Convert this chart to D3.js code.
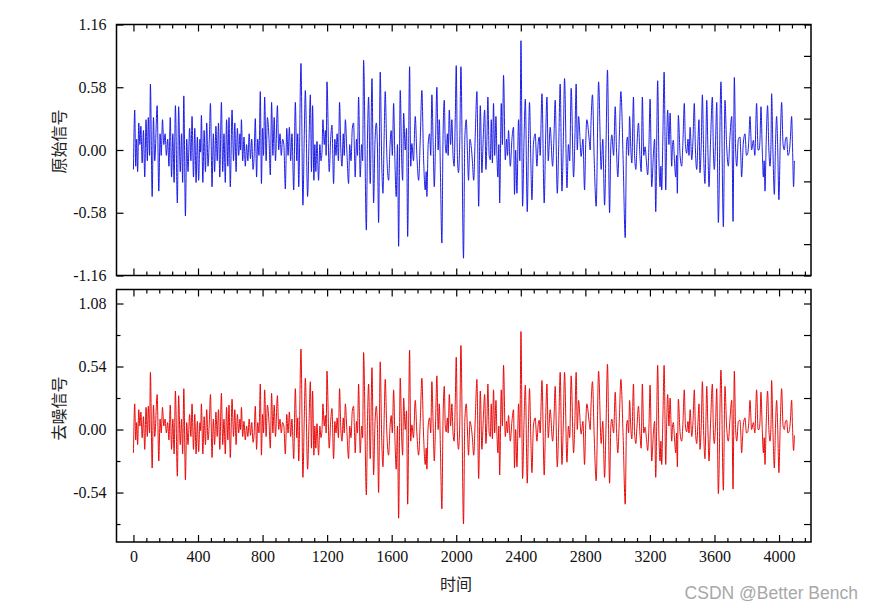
<!DOCTYPE html>
<html>
<head>
<meta charset="utf-8">
<script src="https://cdn.jsdelivr.net/npm/d3@7/dist/d3.min.js"></script>
<style>
  html, body { margin: 0; padding: 0; background: #fff; }
  svg { display: block; }
</style>
</head>
<body>
<svg id="chart" width="874" height="610"></svg>
<script>
// ---- data (time index and signal amplitude at visible turning points) ----
const time = [
0,8,14,20,26,33,40,46,54,62,70,78,86,92,100,105,116,124,132,147,157,165,172,180,188,196,204,212,220,228,236,244,252,260,272,280,290,298,305,312,322,330,338,348,356,363,372,380,388,396,404,412,416,421,430,438,446,454,462,470,477,487,495,503,511,519,527,535,545,553,561,569,577,585,592,600,611,620,628,636,644,652,660,664,669,677,685,693,701,709,717,725,733,741,748,755,763,770,778,786,793,800,806,813,822,830,840,848,856,864,872,880,892,900,908,916,924,932,941,950,958,966,974,982,993,
1003,1012,1018,1024,1038,1050,1058,1065,1079,1088,1096,1103,1110,1118,1124,1130,1137,1147,1155,1162,1168,1174,1182,1189,1194,1199,1213,1222,1230,1240,1248,1255,1262,1270,1277,1285,1292,1300,1306,1313,1322,1333,1340,1348,1356,1364,1369,1374,1382,1388,1395,1405,1414,1420,1426,1443,1450,1457,1467,1478,1488,1496,1505,1512,1519,1529,1538,1546,1553,1560,1570,1581,1590,1597,1604,1612,1620,1628,1636,1643,1653,1662,1668,1674,1684,1692,1699,1711,1718,1725,1735,1746,1756,1767,1777,1787,1797,1808,1814,1818,1826,1835,1842,1849,1857,1864,1872,1880,1888,1895,1902,1911,1918,1926,1932,1938,1945,1950,1957,1965,1973,1980,1987,1994,2000,2007,2014,2022,2029,2045,2053,2062,2070,2076,
2085,2093,2100,2108,2118,2128,2139,2149,2159,2167,2176,2184,2190,2196,2204,2211,2217,2224,2231,2238,2246,2252,2258,2264,2269,2279,2286,2293,2304,2312,2318,2324,2335,2345,2355,2361,2368,2376,2386,2394,2401,2411,2420,2428,2440,2448,2454,2462,2469,2478,2489,2500,2507,2514,2520,2531,2545,2553,2562,2570,2582,2597,2605,2613,2626,2635,2644,2655,2663,2671,2686,2695,2703,2712,2727,2735,2743,2750,2758,2774,2785,2795,2802,2809,2824,2830,2835,2844,2855,2867,2882,2898,2908,2919,2928,2937,2950,2958,2964,2975,2985,2993,3001,3010,3020,3034,3047,3055,3061,3068,3074,3082,3088,3098,3105,3113,3120,3129,3138,3146,3153,
3162,3170,3178,3186,3194,3201,3211,3222,3229,3236,3248,3256,3263,3268,3273,3280,3288,3298,3304,3310,3318,3325,3335,3340,3345,3352,3360,3365,3370,3376,3387,3397,3405,3413,3420,3428,3436,3442,3449,3459,3467,3475,3482,3490,3498,3504,3510,3518,3525,3533,3541,3547,3552,3560,3566,3575,3587,3593,3599,3607,3614,3624,3640,3655,3665,3675,3686,3695,3707,3715,3723,3731,3738,3748,3758,3763,3768,3778,3789,3798,3806,3813,3820,3830,3841,3850,3861,3870,3876,3882,3888,3896,3903,3908,3913,3920,3929,3937,3944,3950,3954,3962,3971,3978,3985,3992,3999,4008,4016,4025,4033,4040,4047,4055,4062,4070,4078,4084,4090,4095
];
const original = [
-0.18,0.37,-0.15,0.10,-0.20,0.25,0.05,0.22,-0.12,0.18,-0.25,0.28,-0.10,0.30,-0.05,0.61,-0.43,0.30,-0.10,0.41,-0.38,0.15,-0.05,0.28,0.05,0.15,-0.05,0.10,-0.15,0.30,-0.25,0.15,-0.30,0.41,-0.49,0.40,-0.20,0.15,-0.30,0.50,-0.61,0.10,-0.20,0.20,-0.10,0.31,-0.25,0.20,-0.30,0.12,-0.28,0.10,-0.02,0.32,-0.30,0.18,-0.20,0.25,-0.15,0.10,0.43,-0.34,0.15,-0.20,0.22,-0.10,0.25,-0.25,0.44,-0.20,0.15,-0.30,0.28,-0.15,0.30,-0.34,0.37,-0.10,0.25,-0.20,0.20,-0.05,0.15,0.00,0.28,-0.10,0.12,-0.15,0.05,-0.10,0.15,-0.08,0.10,-0.18,-0.05,0.29,-0.25,0.10,-0.05,0.54,-0.31,0.20,-0.05,0.49,-0.10,0.30,0.10,-0.23,0.44,-0.05,0.30,-0.10,0.41,0.00,0.15,-0.05,0.10,0.05,-0.36,0.20,-0.05,0.21,-0.10,0.15,-0.37,
0.44,-0.10,0.15,-0.34,0.80,-0.51,0.10,0.55,-0.43,0.10,0.51,-0.20,0.41,-0.28,0.05,-0.20,0.08,-0.28,0.05,-0.10,-0.02,0.28,0.05,0.18,-0.05,0.63,-0.20,0.10,0.23,-0.31,0.10,-0.05,0.15,-0.10,0.44,0.00,-0.15,0.15,-0.05,0.28,0.00,-0.31,0.05,-0.10,0.20,0.25,0.00,-0.25,0.10,-0.05,0.49,-0.25,0.05,-0.10,0.83,-0.74,0.10,0.49,-0.31,0.66,-0.49,0.05,0.25,0.00,-0.67,0.72,-0.10,-0.40,0.10,0.54,-0.05,-0.28,0.05,0.18,-0.05,0.43,-0.10,-0.43,0.05,-0.89,0.55,-0.10,-0.28,0.34,0.00,0.20,-0.80,0.77,-0.15,0.06,-0.10,0.31,-0.05,-0.28,0.10,0.55,-0.05,-0.37,-0.20,-0.43,0.05,0.15,-0.05,0.51,0.05,-0.34,0.10,0.58,0.00,0.28,-0.21,-0.86,0.10,0.46,0.05,-0.03,0.15,-0.05,0.37,0.05,0.28,-0.05,-0.15,0.30,0.78,-0.05,-0.21,0.10,0.77,-1.00,0.10,0.28,-0.05,-0.28,
0.10,0.03,-0.10,-0.28,0.15,0.54,-0.52,0.41,-0.21,0.10,0.37,-0.18,0.10,0.49,-0.05,-0.09,0.28,-0.12,0.43,-0.05,0.31,-0.05,-0.25,0.05,-0.49,0.43,0.05,0.69,-0.09,0.10,-0.05,0.18,-0.15,0.10,0.21,-0.41,0.00,-0.40,0.28,-0.10,1.01,-0.52,0.10,0.47,-0.57,0.10,0.44,-0.10,-0.46,0.05,0.15,-0.15,0.05,0.12,-0.05,0.52,-0.49,0.05,0.49,-0.10,0.21,-0.15,0.10,0.46,-0.40,0.05,0.61,-0.38,0.05,0.66,-0.35,0.05,-0.10,0.57,-0.25,0.10,0.61,0.00,0.31,-0.06,0.10,-0.37,0.05,0.28,0.09,0.00,0.25,0.51,-0.10,-0.52,0.63,-0.18,0.10,-0.51,0.05,0.74,-0.58,0.05,0.14,-0.05,0.40,0.00,-0.25,0.10,0.54,-0.09,-0.81,0.05,0.12,-0.05,0.31,0.00,-0.12,0.49,-0.05,-0.18,0.05,0.25,-0.05,-0.20,0.49,
-0.05,0.03,-0.10,-0.23,0.05,0.47,-0.34,-0.03,0.10,-0.57,0.64,-0.10,-0.34,-0.15,-0.37,0.10,0.72,-0.37,0.10,0.37,0.05,0.34,-0.15,0.05,0.09,-0.10,-0.25,-0.05,-0.40,0.32,-0.05,-0.15,0.10,0.43,0.05,-0.03,0.10,-0.05,0.21,-0.09,0.10,0.43,0.00,-0.18,0.10,0.28,-0.21,0.05,0.51,-0.05,-0.31,0.10,0.46,-0.05,-0.34,0.05,0.49,0.00,-0.18,0.10,0.44,-0.67,0.63,-0.71,0.46,0.05,-0.15,0.10,0.31,-0.66,0.67,0.00,-0.15,0.10,0.12,-0.05,-0.25,0.05,0.15,-0.05,-0.03,0.10,0.31,0.00,0.09,-0.05,0.43,0.00,0.00,0.10,0.40,0.00,-0.25,-0.10,-0.38,0.05,0.41,0.00,-0.15,0.05,0.52,0.00,-0.41,0.05,0.31,0.00,-0.46,0.10,0.44,0.05,0.00,0.10,0.12,-0.05,-0.03,0.10,0.31,0.00,-0.34,-0.10
];
const denoised = [
-0.20,0.22,-0.09,0.06,-0.13,0.17,0.03,0.15,-0.07,0.11,-0.17,0.19,-0.06,0.20,-0.03,0.49,-0.33,0.21,-0.06,0.30,-0.27,0.09,-0.03,0.19,0.03,0.09,-0.03,0.06,-0.09,0.21,-0.17,0.09,-0.21,0.33,-0.40,0.29,-0.13,0.09,-0.21,0.35,-0.43,0.06,-0.13,0.13,-0.06,0.22,-0.17,0.13,-0.21,0.07,-0.19,0.06,-0.01,0.22,-0.21,0.11,-0.13,0.17,-0.09,0.06,0.30,-0.24,0.09,-0.13,0.15,-0.06,0.17,-0.17,0.31,-0.13,0.09,-0.21,0.19,-0.09,0.21,-0.24,0.26,-0.06,0.17,-0.13,0.13,-0.03,0.09,0.00,0.19,-0.06,0.07,-0.09,0.03,-0.06,0.09,-0.05,0.06,-0.11,-0.03,0.20,-0.17,0.06,-0.03,0.39,-0.22,0.13,-0.03,0.34,-0.06,0.21,0.06,-0.16,0.31,-0.03,0.21,-0.06,0.29,0.00,0.09,-0.03,0.06,0.03,-0.21,0.13,-0.03,0.15,-0.06,0.09,-0.25,
0.35,-0.07,0.10,-0.27,0.69,-0.41,0.07,0.44,-0.34,0.07,0.41,-0.16,0.33,-0.22,0.03,-0.16,0.05,-0.22,0.03,-0.07,-0.01,0.22,0.03,0.12,-0.03,0.50,-0.16,0.07,0.18,-0.25,0.07,-0.03,0.10,-0.07,0.35,0.00,-0.10,0.10,-0.03,0.22,0.00,-0.25,0.03,-0.07,0.16,0.20,0.00,-0.20,0.07,-0.03,0.39,-0.20,0.03,-0.07,0.66,-0.56,0.07,0.39,-0.25,0.53,-0.39,0.03,0.20,0.00,-0.54,0.58,-0.07,-0.32,0.07,0.43,-0.03,-0.22,0.03,0.12,-0.03,0.34,-0.07,-0.34,0.03,-0.76,0.44,-0.07,-0.22,0.27,0.00,0.16,-0.64,0.68,-0.10,0.04,-0.07,0.25,-0.03,-0.22,0.07,0.44,-0.03,-0.30,-0.16,-0.34,0.03,0.10,-0.03,0.41,0.03,-0.27,0.07,0.46,0.00,0.22,-0.17,-0.68,0.07,0.37,0.03,-0.02,0.10,-0.03,0.30,0.03,0.22,-0.03,-0.10,0.24,0.62,-0.03,-0.17,0.07,0.72,-0.81,0.07,0.22,-0.03,-0.22,
0.07,0.02,-0.07,-0.22,0.10,0.43,-0.42,0.33,-0.17,0.07,0.30,-0.12,0.07,0.39,-0.03,-0.06,0.22,-0.08,0.34,-0.03,0.25,-0.03,-0.20,0.03,-0.39,0.34,0.03,0.55,-0.06,0.07,-0.03,0.12,-0.10,0.07,0.17,-0.33,0.00,-0.32,0.22,-0.07,0.84,-0.42,0.07,0.38,-0.46,0.07,0.35,-0.07,-0.37,0.03,0.10,-0.10,0.03,0.08,-0.03,0.42,-0.39,0.03,0.39,-0.07,0.17,-0.10,0.07,0.37,-0.32,0.03,0.49,-0.30,0.03,0.49,-0.28,0.03,-0.07,0.46,-0.20,0.07,0.49,0.00,0.25,-0.04,0.07,-0.30,0.03,0.22,0.06,0.00,0.20,0.41,-0.07,-0.44,0.50,-0.12,0.07,-0.41,0.03,0.56,-0.46,0.03,0.09,-0.03,0.32,0.00,-0.20,0.07,0.43,-0.06,-0.64,0.03,0.08,-0.03,0.25,0.00,-0.08,0.39,-0.03,-0.12,0.03,0.20,-0.03,-0.16,0.39,
-0.03,0.02,-0.07,-0.18,0.03,0.38,-0.27,-0.02,0.07,-0.41,0.55,-0.07,-0.27,-0.10,-0.30,0.07,0.55,-0.30,0.07,0.30,0.03,0.27,-0.10,0.03,0.06,-0.07,-0.20,-0.03,-0.32,0.26,-0.03,-0.10,0.07,0.34,0.03,-0.02,0.07,-0.03,0.17,-0.06,0.07,0.34,0.00,-0.12,0.07,0.22,-0.17,0.03,0.41,-0.03,-0.25,0.07,0.37,-0.03,-0.27,0.03,0.39,0.00,-0.12,0.07,0.35,-0.55,0.51,-0.52,0.37,0.03,-0.10,0.07,0.25,-0.51,0.50,0.00,-0.10,0.07,0.08,-0.03,-0.20,0.03,0.10,-0.03,-0.02,0.07,0.25,0.00,0.06,-0.03,0.34,0.00,0.00,0.07,0.32,0.00,-0.20,-0.07,-0.30,0.03,0.33,0.00,-0.10,0.03,0.42,0.00,-0.33,0.03,0.25,0.00,-0.37,0.07,0.35,0.03,0.00,0.07,0.08,-0.03,-0.02,0.07,0.25,0.00,-0.18,-0.05
];
const xTickValues = [0,400,800,1200,1600,2000,2400,2800,3200,3600,4000];
const topYTicks = [-1.16,-0.58,0.00,0.58,1.16];
const bottomYTicks = [-0.54,0.00,0.54,1.08];
const topTitle = "原始信号";
const bottomTitle = "去噪信号";
const xTitle = "时间";

// ---- layout ----
const svg = d3.select("#chart");
const L = 116.5, R = 811;
const topPanel = {y0: 24.5, y1: 275.5, domain: [-1.16, 1.16]};
const botPanel = {y0: 289.5, y1: 542, domain: [-0.964, 1.2]};

const x = d3.scaleLinear().domain([-105, 4198]).range([L, R]);
const xMinor = d3.range(0, 4198, 80).filter(v => v % 400 !== 0);

const serif = '"Liberation Serif", "Times New Roman", serif';
const cjk = '"Noto Sans CJK SC", "Noto Sans CJK JP", sans-serif';

function drawPanel(p, values, color, yMajor, yMinorLeft, yMinorRight, showXLabels, title, titleY, clipId) {
  const y = d3.scaleLinear().domain(p.domain).range([p.y1, p.y0]);
  const g = svg.append("g");

  svg.append("clipPath").attr("id", clipId)
    .append("rect").attr("x", L).attr("y", p.y0).attr("width", R - L).attr("height", p.y1 - p.y0);

  const pts = time.map((t, i) => [t, values[i]]);
  const line = d3.line().curve(d3.curveMonotoneX).x(d => x(d[0])).y(d => y(d[1]));
  g.append("path").datum(pts)
    .attr("clip-path", `url(#${clipId})`)
    .attr("fill", "none").attr("stroke", color).attr("stroke-width", 0.95)
    .attr("stroke-linejoin", "round")
    .attr("d", line);

  // bottom x axis (inward ticks)
  const xb = d3.axisBottom(x).tickValues(xTickValues).tickSize(-7).tickPadding(9)
    .tickFormat(showXLabels ? d3.format("d") : () => "");
  g.append("g").attr("transform", `translate(0,${p.y1})`).call(xb);
  g.append("g").attr("transform", `translate(0,${p.y1})`)
    .call(d3.axisBottom(x).tickValues(xMinor).tickSize(-4).tickFormat(() => ""));
  // top x axis
  g.append("g").attr("transform", `translate(0,${p.y0})`)
    .call(d3.axisTop(x).tickValues(xTickValues).tickSize(-7).tickFormat(() => ""));
  g.append("g").attr("transform", `translate(0,${p.y0})`)
    .call(d3.axisTop(x).tickValues(xMinor).tickSize(-4).tickFormat(() => ""));
  // left axis
  g.append("g").attr("transform", `translate(${L},0)`)
    .call(d3.axisLeft(y).tickValues(yMajor).tickSize(-7).tickPadding(10).tickFormat(d => d.toFixed(2)));
  if (yMinorLeft.length) {
    g.append("g").attr("transform", `translate(${L},0)`)
      .call(d3.axisLeft(y).tickValues(yMinorLeft).tickSize(-4).tickFormat(() => ""));
  }
  // right axis
  g.append("g").attr("transform", `translate(${R},0)`)
    .call(d3.axisRight(y).tickValues(yMajor).tickSize(-7).tickFormat(() => ""));
  g.append("g").attr("transform", `translate(${R},0)`)
    .call(d3.axisRight(y).tickValues(yMinorRight).tickSize(-7).tickFormat(() => ""));

  g.selectAll(".domain").remove();
  g.selectAll("g").attr("font-family", null);
  g.selectAll(".tick line").attr("stroke", "#000").attr("stroke-width", 1.2);
  g.selectAll(".tick text")
    .style("font-family", serif).style("font-size", "16px").attr("fill", "#111");

  // frame
  g.append("rect").attr("x", L).attr("y", p.y0).attr("width", R - L).attr("height", p.y1 - p.y0)
    .attr("fill", "none").attr("stroke", "#000").attr("stroke-width", 1.5);

  // y title
  svg.append("text")
    .attr("transform", `translate(58,${titleY}) rotate(-90)`)
    .attr("text-anchor", "middle").attr("dominant-baseline", "central")
    .style("font-family", cjk).style("font-size", "16px").attr("fill", "#222")
    .text(title);
}

drawPanel(topPanel, original, "#1414e6", topYTicks, [], [-0.87,-0.29,0.29,0.87], false, topTitle, 141.5, "clipTop");
drawPanel(botPanel, denoised, "#e80000", bottomYTicks, [-0.81,-0.27,0.27,0.81], [-0.81,-0.27,0.27,0.81], true, bottomTitle, 408.5, "clipBot");

// x title
svg.append("text").attr("x", 456).attr("y", 583)
  .attr("text-anchor", "middle").attr("dominant-baseline", "central")
  .style("font-family", cjk).style("font-size", "16px").attr("fill", "#222")
  .text(xTitle);

// watermark
svg.append("text").attr("x", 858).attr("y", 599)
  .attr("text-anchor", "end")
  .style("font-family", '"Liberation Sans", Arial, sans-serif').style("font-size", "17.5px")
  .attr("fill", "#a8a8a8")
  .text("CSDN @Better Bench");
</script>
</body>
</html>
